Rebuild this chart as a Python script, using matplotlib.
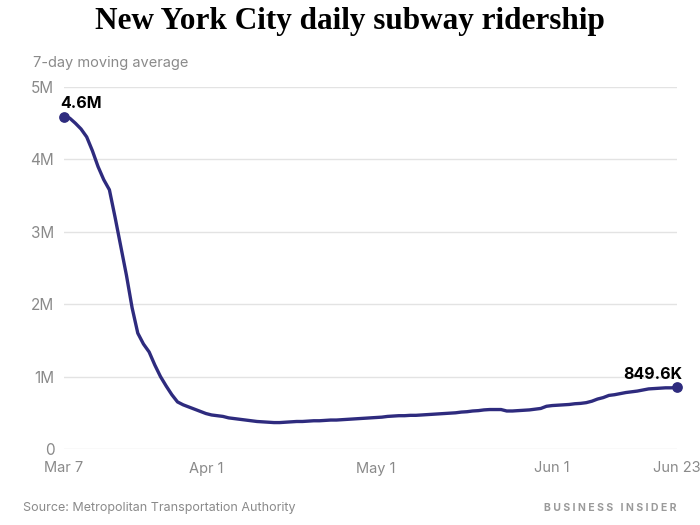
import datetime as dt

import matplotlib.pyplot as plt

# daily 7-day moving average of subway riders, millions, Mar 7 .. Jun 23 2020
start = dt.date(2020, 3, 7)
riders = [
    4.59, 4.57, 4.50, 4.42, 4.31, 4.12, 3.90, 3.72, 3.58, 3.20,
    2.80, 2.40, 1.95, 1.60, 1.45, 1.34, 1.16, 1.00, 0.87, 0.75,
    0.65, 0.61, 0.58, 0.55, 0.52, 0.49, 0.47, 0.46, 0.45, 0.43,
    0.42, 0.41, 0.40, 0.39, 0.38, 0.375, 0.37, 0.365, 0.365, 0.37,
    0.375, 0.38, 0.38, 0.385, 0.39, 0.39, 0.395, 0.40, 0.40, 0.405,
    0.41, 0.415, 0.42, 0.425, 0.43, 0.435, 0.44, 0.45, 0.455, 0.46,
    0.46, 0.465, 0.465, 0.47, 0.475, 0.48, 0.485, 0.49, 0.495, 0.50,
    0.51, 0.515, 0.525, 0.53, 0.54, 0.545, 0.545, 0.545, 0.525, 0.525,
    0.53, 0.535, 0.54, 0.55, 0.56, 0.59, 0.60, 0.605, 0.61, 0.615,
    0.625, 0.63, 0.64, 0.66, 0.69, 0.71, 0.74, 0.75, 0.765, 0.78,
    0.79, 0.80, 0.815, 0.83, 0.835, 0.84, 0.845, 0.845, 0.8496,
]
dates = [start + dt.timedelta(days=i) for i in range(len(riders))]

tick_dates = [dt.date(2020, 3, 7), dt.date(2020, 4, 1), dt.date(2020, 5, 1),
              dt.date(2020, 6, 1), dt.date(2020, 6, 23)]
tick_labels = ["Mar 7", "Apr 1", "May 1", "Jun 1", "Jun 23"]
y_ticks = [0, 1, 2, 3, 4, 5]
y_labels = ["0", "1M", "2M", "3M", "4M", "5M"]
first_label = "4.6M"
last_label = "849.6K"

LINE = "#2e2b7e"
GRAY = "#8a8a8a"
SANS = ["Inter", "DejaVu Sans"]

plt.rcParams["font.family"] = SANS

fig = plt.figure(figsize=(7, 5.25), dpi=100)
ax = fig.add_axes([64 / 700, 76 / 525, 613 / 700, 362 / 525])

ax.plot(dates, riders, color=LINE, linewidth=2.4, solid_capstyle="round",
        clip_on=False, zorder=3)
ax.scatter([dates[0], dates[-1]], [riders[0], riders[-1]], s=45, color=LINE,
           clip_on=False, zorder=4)

# end-point value labels
ax.annotate(first_label, (dates[0], riders[0]), textcoords="offset points",
            xytext=(-3, 4), ha="left", va="bottom", fontsize=11.5,
            fontweight="bold", color="black")
ax.annotate(last_label, (dates[-1], riders[-1]), textcoords="offset points",
            xytext=(4, 4), ha="right", va="bottom", fontsize=11.5,
            fontweight="bold", color="black")

ax.set_xlim(dates[0], dates[-1])
ax.set_ylim(0, 5)
ax.set_xticks(tick_dates)
ax.set_xticklabels(tick_labels)
ax.set_yticks(y_ticks)
ax.set_yticklabels(y_labels)
ax.tick_params(length=0, labelsize=11, labelcolor=GRAY)
ax.tick_params(axis="y", pad=7)
ax.tick_params(axis="x", pad=9, labelsize=10.5)
ax.grid(True, axis="y", color="#e3e3e3", linewidth=1)
ax.set_axisbelow(True)
for s in ax.spines.values():
    s.set_visible(False)

fig.text(0.5, 1 - 22 / 525, "New York City daily subway ridership", ha="center",
         va="center", fontsize=22.5, fontweight="bold", family="Liberation Serif")
fig.text(33 / 700, 1 - 63 / 525, "7-day moving average", ha="left",
         va="center", fontsize=10.5, color=GRAY)
fig.text(23 / 700, 1 - 508 / 525, "Source: Metropolitan Transportation Authority",
         ha="left", va="center", fontsize=9, color=GRAY)
fig.text(676 / 700, 1 - 508 / 525, "B U S I N E S S   I N S I D E R", ha="right",
         va="center", fontsize=7.5, fontweight="bold", color="#9a9a9a")

fig.savefig("out.png", dpi=100)
